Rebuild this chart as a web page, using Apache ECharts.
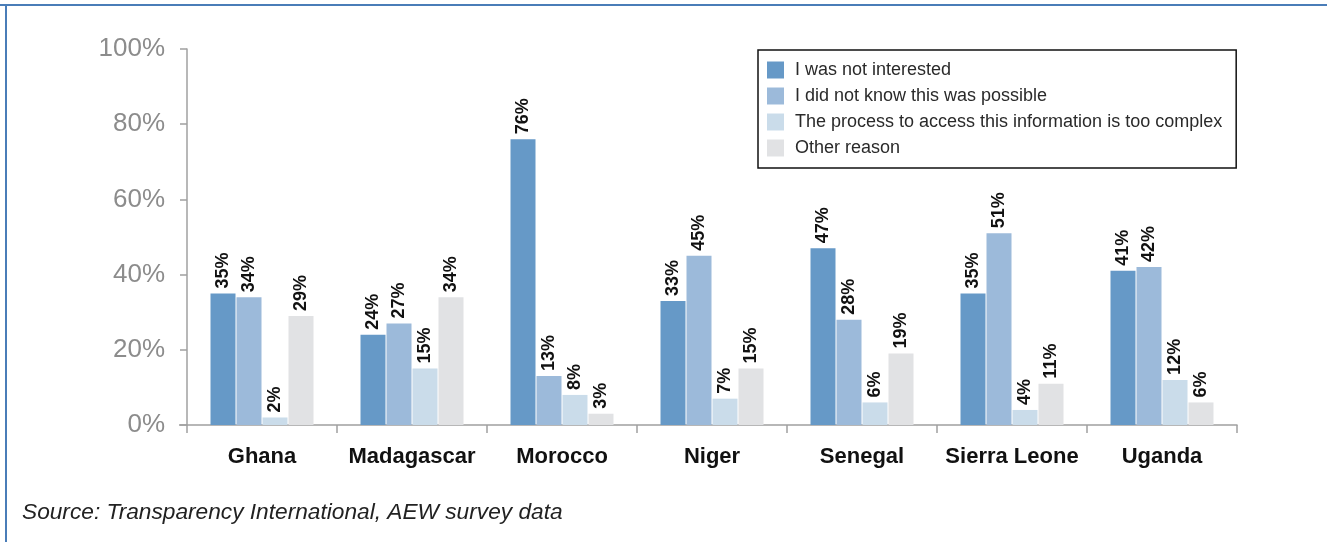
<!DOCTYPE html>
<html><head><meta charset="utf-8">
<script src="https://cdn.jsdelivr.net/npm/echarts@6/dist/echarts.min.js"></script>
<style>html,body{margin:0;padding:0;background:#fff}#c{width:1327px;height:542px}</style>
</head><body><div id="c"></div>
<script>
var categories = ['Ghana','Madagascar','Morocco','Niger','Senegal','Sierra Leone','Uganda'];
var seriesNames = ['I was not interested','I did not know this was possible','The process to access this information is too complex','Other reason'];
var notInterested = [35,24,76,33,47,35,41];
var didNotKnow = [34,27,13,45,28,51,42];
var tooComplex = [2,15,8,7,6,4,12];
var otherReason = [29,34,3,15,19,11,6];
var yTicks = [0,20,40,60,80,100];
var sourceText = 'Source: Transparency International, AEW survey data';
var colors = ['#6699c7','#9cbada','#cadcea','#e1e2e4'];
var values = [notInterested, didNotKnow, tooComplex, otherReason];

var chart = echarts.init(document.getElementById('c'));
chart.setOption({
  animation:false,
  backgroundColor:'#fff',
  grid:{left:187,right:90,top:49,bottom:117,containLabel:false},
  legend:{
    orient:'vertical',left:758,top:50,
    padding:[11,14,11,9],
    itemWidth:17,itemHeight:17,itemGap:8,
    borderColor:'#111',borderWidth:1.5,
    icon:'rect',
    textStyle:{fontFamily:'Liberation Sans',fontSize:18,color:'#2a2a2a',padding:[0,0,0,6]},
    data:seriesNames
  },
  xAxis:{
    type:'category',data:categories,
    axisLine:{lineStyle:{color:'#a0a0a0',width:1.5}},
    axisTick:{show:true,length:8,lineStyle:{color:'#a0a0a0',width:1.5}},
    axisLabel:{interval:0,margin:21,fontFamily:'Liberation Sans',fontWeight:'bold',fontSize:22,color:'#111'}
  },
  yAxis:{
    type:'value',min:0,max:100,interval:20,
    axisLine:{show:true,lineStyle:{color:'#a0a0a0',width:1.5}},
    axisTick:{show:true,length:7,lineStyle:{color:'#a0a0a0',width:1.5}},
    splitLine:{show:false},
    axisLabel:{margin:22,fontFamily:'Liberation Sans',fontSize:26,color:'#8c8c8c',
      formatter:function(v){return yTicks.indexOf(v)>=0? v+'%':'';}}
  },
  series: seriesNames.map(function(n,i){
    return {
      name:n,type:'bar',data:values[i],barWidth:25,barGap:'4%',
      itemStyle:{color:colors[i]},
      label:{show:true,position:'top',rotate:90,align:'left',verticalAlign:'middle',distance:5,
        fontFamily:'Liberation Sans',fontWeight:'bold',fontSize:18,color:'#111',
        formatter:'{c}%'}
    };
  }),
  graphic:[
    {type:'line',shape:{x1:0,y1:5,x2:1327,y2:5},style:{stroke:'#4a7db8',lineWidth:2}},
    {type:'line',shape:{x1:6,y1:5,x2:6,y2:542},style:{stroke:'#4a7db8',lineWidth:2}},
    {type:'line',shape:{x1:179,y1:425,x2:187,y2:425},style:{stroke:'#a0a0a0',lineWidth:1.5}},
    {type:'text',left:22,top:501,style:{text:sourceText,fontFamily:'Liberation Sans',fontStyle:'italic',fontSize:22.7,fill:'#222'}}
  ]
});
</script></body></html>
